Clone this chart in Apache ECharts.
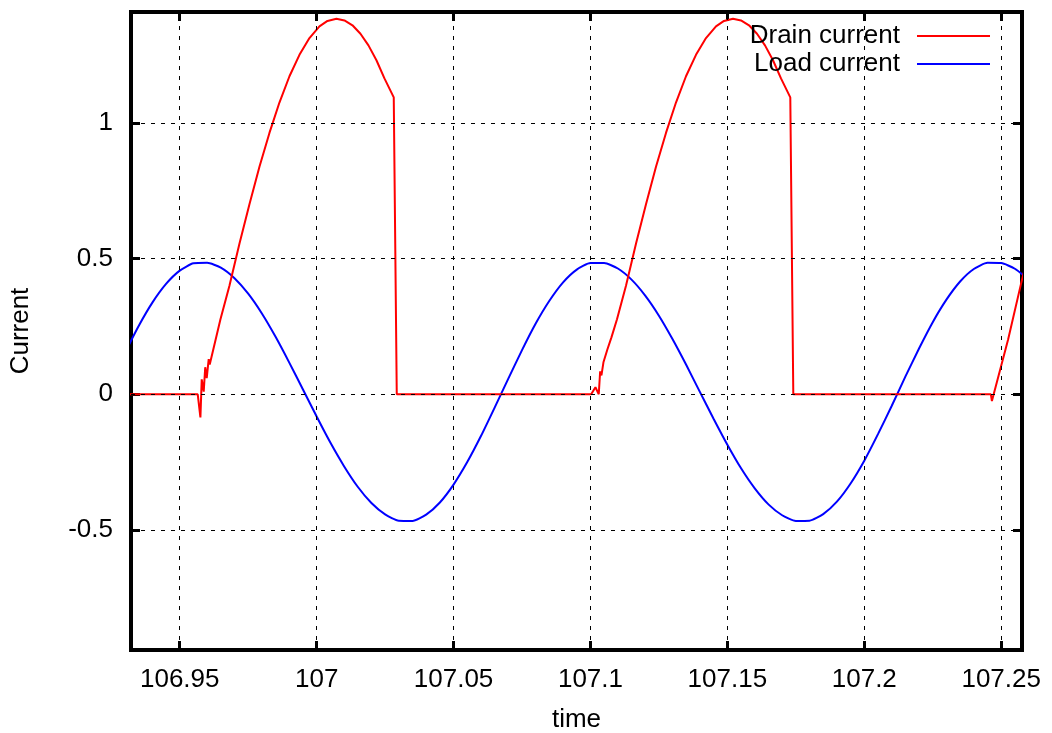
<!DOCTYPE html>
<html><head><meta charset="utf-8">
<script src="https://cdn.jsdelivr.net/npm/echarts@6/dist/echarts.min.js"></script>
<style>html,body{margin:0;padding:0;background:#fff}#c{width:1052px;height:733px}</style>
</head><body><div id="c"></div>
<script>
const xTicks = [106.95, 107, 107.05, 107.1, 107.15, 107.2, 107.25];
const xTickLabels = ['106.95', '107', '107.05', '107.1', '107.15', '107.2', '107.25'];
const yTicks = [-0.5, 0, 0.5, 1];
const yTickLabels = ['-0.5', '0', '0.5', '1'];

const loadTime = [106.930, 106.935, 106.940, 106.945, 106.950, 106.955, 106.960, 106.965, 106.970, 106.975,
  106.980, 106.985, 106.990, 106.995, 107.000, 107.005, 107.010, 107.015, 107.020, 107.025,
  107.030, 107.035, 107.040, 107.045, 107.050, 107.055, 107.060, 107.065, 107.070, 107.075,
  107.080, 107.085, 107.090, 107.095, 107.100, 107.105, 107.110, 107.115, 107.120, 107.125,
  107.130, 107.135, 107.140, 107.145, 107.150, 107.155, 107.160, 107.165, 107.170, 107.175,
  107.180, 107.185, 107.190, 107.195, 107.200, 107.205, 107.210, 107.215, 107.220, 107.225,
  107.230, 107.235, 107.240, 107.245, 107.250, 107.255, 107.260];
const loadCurrent = [0.154, 0.252, 0.338, 0.407, 0.456, 0.483, 0.485, 0.467, 0.428, 0.371,
  0.298, 0.212, 0.117, 0.018, -0.082, -0.178, -0.265, -0.341, -0.401, -0.443,
  -0.466, -0.467, -0.444, -0.399, -0.333, -0.250, -0.154, -0.049, 0.058, 0.163,
  0.261, 0.345, 0.413, 0.460, 0.484, 0.484, 0.464, 0.423, 0.364, 0.290,
  0.203, 0.108, 0.008, -0.091, -0.186, -0.273, -0.347, -0.406, -0.446, -0.467,
  -0.466, -0.442, -0.396, -0.329, -0.245, -0.147, -0.043, 0.065, 0.169, 0.266,
  0.349, 0.416, 0.462, 0.485, 0.484, 0.463, 0.422];

const drainTime = [106.93, 106.95657, 106.95755, 106.95803, 106.95876, 106.95931, 106.95985, 106.96058, 106.96095,
  106.96487, 106.96815, 106.97180, 106.97546, 106.97911, 106.98276, 106.98641, 106.99007, 106.99372, 106.99737,
  107.00102, 107.00395, 107.00723, 107.01015, 107.01308, 107.01600, 107.01892, 107.02184, 107.02476, 107.02816, 107.02926,
  107.06, 107.10026, 107.10182, 107.10303, 107.10354, 107.10401, 107.10474, 107.10529, 107.10620, 107.10766,
  107.10969, 107.11297, 107.11662, 107.12028, 107.12393, 107.12758, 107.13123, 107.13489, 107.13854, 107.14219,
  107.14584, 107.14877, 107.15205, 107.15497, 107.15790, 107.16082, 107.16374, 107.16666, 107.16958, 107.17298, 107.17408,
  107.21, 107.24624, 107.24661, 107.25255, 107.25730, 107.26022];
const drainCurrent = [0, 0, -0.085, 0.055, 0.01, 0.10, 0.06, 0.13, 0.11,
  0.277, 0.400, 0.555, 0.701, 0.839, 0.964, 1.076, 1.173, 1.252, 1.314,
  1.357, 1.377, 1.385, 1.379, 1.361, 1.330, 1.287, 1.232, 1.165, 1.095, 0,
  0, 0, 0.026, 0, 0.085, 0.07, 0.118, 0.12, 0.166, 0.21,
  0.277, 0.400, 0.555, 0.701, 0.839, 0.964, 1.076, 1.173, 1.252, 1.314,
  1.357, 1.377, 1.385, 1.379, 1.361, 1.330, 1.287, 1.232, 1.165, 1.095, 0,
  0, 0, -0.025, 0.203, 0.41, 0.53];

const FONT = "'Liberation Sans', Arial, Helvetica, sans-serif";
const X_MIN = 106.9322, X_MAX = 107.2576, Y_MIN = -0.943, Y_MAX = 1.41;

function labelFor(ticks, labels) {
  return function (v) {
    const i = ticks.findIndex(t => Math.abs(t - v) < 1e-6);
    return i >= 0 ? labels[i] : '';
  };
}

const tickStyle = { show: true, inside: true, length: 9, lineStyle: { color: '#000', width: 3 } };
const noLine = { show: false, onZero: false };

const chart = echarts.init(document.getElementById('c'), null, { renderer: 'canvas' });
chart.setOption({
  animation: false,
  backgroundColor: '#fff',
  textStyle: { fontFamily: FONT },
  grid: { left: 131, right: 30, top: 12, bottom: 83, containLabel: false, outerBoundsMode: 'none',
    show: true, borderColor: '#000', borderWidth: 4, backgroundColor: 'transparent' },
  legend: [
    { data: ['Drain current'], right: 62, top: 22, orient: 'vertical', align: 'right', padding: 0,
      icon: 'rect', itemWidth: 73, itemHeight: 2,
      textStyle: { fontSize: 26, fontFamily: FONT, color: '#000', lineHeight: 28, padding: [0, 12, 0, 0] } },
    { data: ['Load current'], right: 62, top: 50, orient: 'vertical', align: 'right', padding: 0,
      icon: 'rect', itemWidth: 73, itemHeight: 2,
      textStyle: { fontSize: 26, fontFamily: FONT, color: '#000', lineHeight: 28, padding: [0, 12, 0, 0] } }
  ],
  xAxis: [
    { type: 'value', min: X_MIN, max: X_MAX, position: 'bottom',
      name: 'time', nameLocation: 'middle', nameGap: 57,
      nameTextStyle: { fontSize: 26, fontFamily: FONT, color: '#000' },
      axisLine: noLine,
      axisTick: Object.assign({ customValues: xTicks }, tickStyle),
      axisLabel: { customValues: xTicks, formatter: labelFor(xTicks, xTickLabels), fontSize: 26, fontFamily: FONT, color: '#000', margin: 17 },
      splitLine: { show: false } },
    { type: 'value', min: X_MIN, max: X_MAX, position: 'top',
      axisLine: noLine,
      axisTick: Object.assign({ customValues: xTicks }, tickStyle),
      axisLabel: { show: false }, splitLine: { show: false } }
  ],
  yAxis: [
    { type: 'value', min: Y_MIN, max: Y_MAX, position: 'left',
      name: 'Current', nameLocation: 'middle', nameGap: 97, nameRotate: 90,
      nameTextStyle: { fontSize: 26, fontFamily: FONT, color: '#000' },
      axisLine: noLine,
      axisTick: Object.assign({ customValues: yTicks }, tickStyle),
      axisLabel: { customValues: yTicks, formatter: labelFor(yTicks, yTickLabels), fontSize: 26, fontFamily: FONT, color: '#000', margin: 18 },
      splitLine: { show: false } },
    { type: 'value', min: Y_MIN, max: Y_MAX, position: 'right',
      axisLine: noLine,
      axisTick: Object.assign({ customValues: yTicks }, tickStyle),
      axisLabel: { show: false }, splitLine: { show: false } }
  ],
  series: [
    { name: 'gridlines', type: 'line', data: [], z: 1, silent: true, symbol: 'none',
      markLine: { silent: true, symbol: ['none', 'none'], label: { show: false }, animation: false,
        lineStyle: { color: '#000', width: 1, type: [4, 6] },
        emphasis: { disabled: true },
        data: xTicks.map(v => ({ xAxis: v })).concat(yTicks.map(v => ({ yAxis: v }))) } },
    { name: 'Drain current', type: 'line', z: 3, symbol: 'none', showSymbol: false,
      lineStyle: { color: '#ff0000', width: 2 }, itemStyle: { color: '#ff0000' },
      data: drainTime.map((t, i) => [t, drainCurrent[i]]) },
    { name: 'Load current', type: 'line', z: 2, symbol: 'none', showSymbol: false, smooth: 0.2,
      lineStyle: { color: '#0000ff', width: 2 }, itemStyle: { color: '#0000ff' },
      data: loadTime.map((t, i) => [t, loadCurrent[i]]) }
  ]
});
</script>
</body></html>
